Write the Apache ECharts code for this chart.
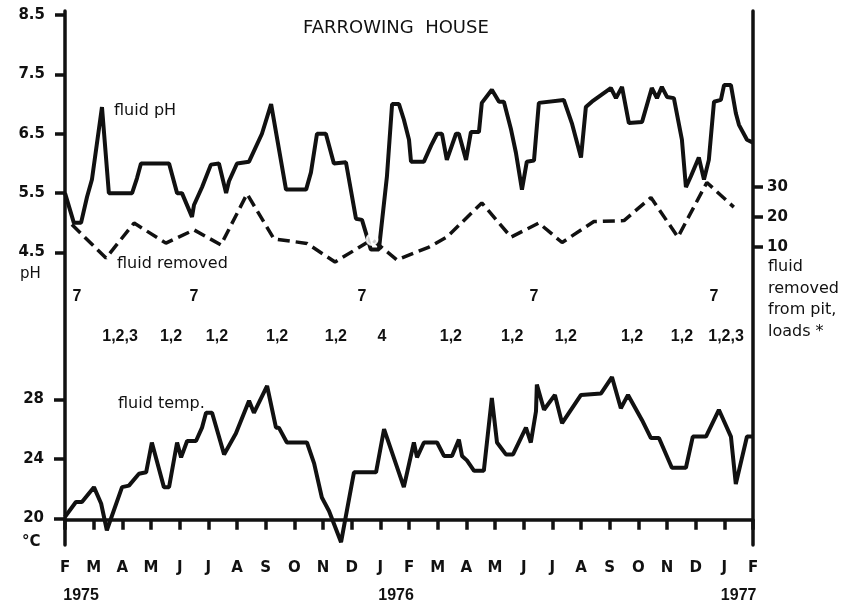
<!DOCTYPE html>
<html><head><meta charset="utf-8">
<script src="https://cdn.jsdelivr.net/npm/echarts@6/dist/echarts.min.js"></script>
<style>html,body{margin:0;padding:0;background:#fff}#c{width:853px;height:608px}</style>
</head><body><div id="c"></div>
<script>
// ---- data (x = months after Feb 1975) ----
const monthLabels = ['F','M','A','M','J','J','A','S','O','N','D','J','F','M','A','M','J','J','A','S','O','N','D','J','F'];
const yearLabels = ['1975','1976','1977'];
const yearMonths = [0.56, 11.55, 23.5];
const phTicks = [4.5, 5.5, 6.5, 7.5, 8.5];
const removedTicks = [10, 20, 30];
const tempTicks = [20, 24, 28];

const phMonths = [0,0.31,0.56,0.77,0.94,1.29,1.53,2.34,2.51,2.65,3.63,3.91,4.08,4.43,4.5,4.78,5.09,5.37,5.62,5.72,6.0,6.42,6.87,7.19,7.71,8.41,8.58,8.79,9.1,9.38,9.8,10.15,10.36,10.67,10.95,11.23,11.41,11.65,11.82,12.0,12.07,12.52,12.77,12.98,13.15,13.32,13.64,13.74,13.99,14.16,14.44,14.54,14.89,15.14,15.31,15.56,15.73,15.94,16.11,16.36,16.53,17.4,17.68,18.0,18.17,18.38,19.04,19.22,19.43,19.67,20.13,20.47,20.65,20.82,21.0,21.24,21.52,21.66,21.83,22.11,22.29,22.46,22.64,22.88,22.99,23.23,23.4,23.51,23.79,24];
const phValues = [5.5,5.0,5.0,5.44,5.73,6.95,5.5,5.5,5.75,6.0,6.0,5.5,5.5,5.1,5.3,5.6,5.98,6.0,5.5,5.7,6.0,6.03,6.5,7.0,5.56,5.56,5.85,6.5,6.5,6.0,6.02,5.07,5.05,4.55,4.55,5.78,7.0,7.0,6.74,6.4,6.03,6.03,6.3,6.5,6.5,6.06,6.5,6.5,6.06,6.53,6.53,7.02,7.24,7.04,7.04,6.57,6.18,5.56,6.03,6.05,7.02,7.07,6.68,6.1,6.95,7.04,7.27,7.1,7.29,6.68,6.7,7.27,7.1,7.29,7.12,7.1,6.4,5.6,5.78,6.1,5.73,6.06,7.04,7.07,7.32,7.32,6.85,6.65,6.4,6.35];

const removedMonths = [0.24,1.43,2.41,3.52,4.5,5.44,6.35,7.29,8.44,9.42,10.71,11.58,12.7,13.32,14.54,15.56,16.53,17.34,18.45,19.5,20.44,21.38,22.39,23.33];
const removedValues = [17.5,6.3,18,11.3,15.7,10.7,27.7,12.7,11.2,5,12.5,5.7,10,13.3,24.7,13.3,18,11.5,18.5,18.8,26.5,13.3,31.5,23.3];
const circledIndex = 10;

const tempMonths = [0,0.38,0.59,1.01,1.26,1.46,1.99,2.23,2.58,2.83,3.03,3.45,3.63,3.91,4.05,4.26,4.57,4.78,4.92,5.13,5.55,5.96,6.42,6.59,7.05,7.36,7.46,7.74,8.44,8.69,8.96,9.21,9.63,10.08,10.85,11.13,11.82,12.17,12.28,12.52,12.98,13.22,13.5,13.74,13.85,14.02,14.27,14.61,14.89,15.07,15.38,15.63,16.08,16.25,16.43,16.46,16.71,17.09,17.34,18.0,18.7,19.08,19.39,19.64,20.13,20.44,20.72,21.17,21.66,21.9,22.36,22.81,23.23,23.4,23.79,24];
const tempValues = [20.1,21.1,21.1,22.1,21.0,19.2,22.1,22.2,23.0,23.1,25.1,22.1,22.1,25.1,24.1,25.2,25.2,26.1,27.1,27.1,24.3,25.7,27.9,27.1,28.9,26.1,26.1,25.1,25.1,23.7,21.4,20.5,18.4,23.1,23.1,26.0,22.1,25.1,24.1,25.1,25.1,24.2,24.2,25.3,24.2,23.9,23.2,23.2,28.1,25.1,24.3,24.3,26.1,25.1,27.2,29.0,27.3,28.3,26.4,28.3,28.4,29.5,27.4,28.3,26.6,25.4,25.4,23.4,23.4,25.5,25.5,27.3,25.5,22.3,25.5,25.5];

const sevenLabels = ['7','7','7','7','7'];
const sevenMonths = [0.42, 4.5, 10.36, 16.36, 22.64];
const codeLabels = ['1,2,3','1,2','1,2','1,2','1,2','4','1,2','1,2','1,2','1,2','1,2','1,2,3'];
const codeMonths = [1.92, 3.7, 5.3, 7.4, 9.45, 11.06, 13.46, 15.6, 17.47, 19.78, 21.52, 23.06];

// ---- chart ----
const zip = (a, b) => a.map((m, i) => [m, b[i]]);
const INK = '#111';
const FF = 'DejaVu Sans';
const LW = 4;
const chart = echarts.init(document.getElementById('c'), null, {renderer: 'canvas'});

const axisLineStyle = {show: true, lineStyle: {color: INK, width: 3.5}};
const option = {
  animation: false,
  backgroundColor: '#fff',
  title: {
    text: 'FARROWING  HOUSE', left: 298, top: 14,
    textStyle: {fontFamily: FF, fontSize: 18, fontWeight: 'normal', color: INK}
  },
  grid: {left: 65, right: 100, top: 11, bottom: 63, containLabel: false, outerBoundsMode: 'none'},
  xAxis: {
    type: 'value', min: 0, max: 24, interval: 1,
    axisLine: axisLineStyle,
    axisTick: {show: true, length: 10, lineStyle: {color: INK, width: 3.5}},
    axisLabel: {formatter: v => monthLabels[Math.round(v)], fontFamily: FF, fontWeight: 'bold', fontSize: 15, color: INK, margin: 16},
    splitLine: {show: false}
  },
  yAxis: [
    { // pH
      type: 'value', position: 'left', min: -0.425, max: 8.5672,
      axisLine: axisLineStyle,
      axisTick: {show: true, customValues: phTicks, length: 10, lineStyle: {color: INK, width: 3.5}},
      axisLabel: {customValues: phTicks, formatter: v => v.toFixed(1), fontFamily: FF, fontWeight: 'bold', fontSize: 15, color: INK, margin: 20},
      splitLine: {show: false}
    },
    { // fluid removed
      type: 'value', position: 'right', min: -89.33, max: 88.67,
      axisLine: axisLineStyle,
      axisTick: {show: true, customValues: removedTicks, length: 10, lineStyle: {color: INK, width: 3.5}},
      axisLabel: {customValues: removedTicks, fontFamily: FF, fontWeight: 'bold', fontSize: 15, color: INK, margin: 14},
      splitLine: {show: false}
    },
    { // temperature
      type: 'value', position: 'left', offset: 0, min: 18.21, max: 54.11,
      axisLine: {show: false},
      axisTick: {show: true, customValues: tempTicks, length: 11, lineStyle: {color: INK, width: 3.5}},
      axisLabel: {customValues: tempTicks, fontFamily: FF, fontWeight: 'bold', fontSize: 15, color: INK, margin: 21},
      splitLine: {show: false}
    }
  ],
  series: [
    {name: 'fluid pH', type: 'line', yAxisIndex: 0, data: zip(phMonths, phValues), symbol: 'none',
     lineStyle: {color: INK, width: LW}, z: 3},
    {name: 'fluid removed', type: 'line', yAxisIndex: 1, data: zip(removedMonths, removedValues), symbol: 'none',
     lineStyle: {color: INK, width: LW - 0.5, type: [12, 6]}, z: 3},
    {name: 'circled', type: 'scatter', yAxisIndex: 1, data: [[removedMonths[circledIndex], removedValues[circledIndex]]],
     symbol: 'emptyCircle', symbolSize: 11, itemStyle: {color: '#fff', borderColor: INK, borderWidth: 2}, z: 4},
    {name: 'fluid temp.', type: 'line', yAxisIndex: 2, data: zip(tempMonths, tempValues), symbol: 'none',
     lineStyle: {color: INK, width: LW}, z: 3}
  ]
};
chart.setOption(option);

const px = m => chart.convertToPixel({xAxisIndex: 0}, m);
const txt = (text, x, y, opts = {}) => ({
  type: 'text', silent: true, z: 10,
  style: {text, x, y, fill: INK, font: `${opts.weight || 'normal'} ${opts.size || 16}px "${opts.family || FF}"`,
    align: opts.align || 'left', verticalAlign: 'middle'}
});
const graphics = [];
graphics.push(txt('fluid pH', 114, 111));
graphics.push(txt('fluid removed', 117, 264));
graphics.push(txt('fluid temp.', 118, 404));
graphics.push(txt('pH', 20, 274, {size: 15}));
graphics.push(txt('°C', 22, 542, {size: 15, weight: 'bold'}));
['fluid', 'removed', 'from pit,', 'loads *'].forEach((s, i) => graphics.push(txt(s, 768, 267 + i * 21.5)));
sevenLabels.forEach((s, i) => graphics.push(txt(s, px(sevenMonths[i]), 297, {align: 'center', weight: 'bold', family: 'Liberation Sans', size: 16})));
codeLabels.forEach((s, i) => graphics.push(txt(s, px(codeMonths[i]), 337, {align: 'center', weight: 'bold', family: 'Liberation Sans', size: 16})));
yearLabels.forEach((s, i) => graphics.push(txt(s, px(yearMonths[i]), 596, {align: 'center', weight: 'bold', family: 'Liberation Sans', size: 16})));
chart.setOption({graphic: graphics});
</script>
</body></html>
